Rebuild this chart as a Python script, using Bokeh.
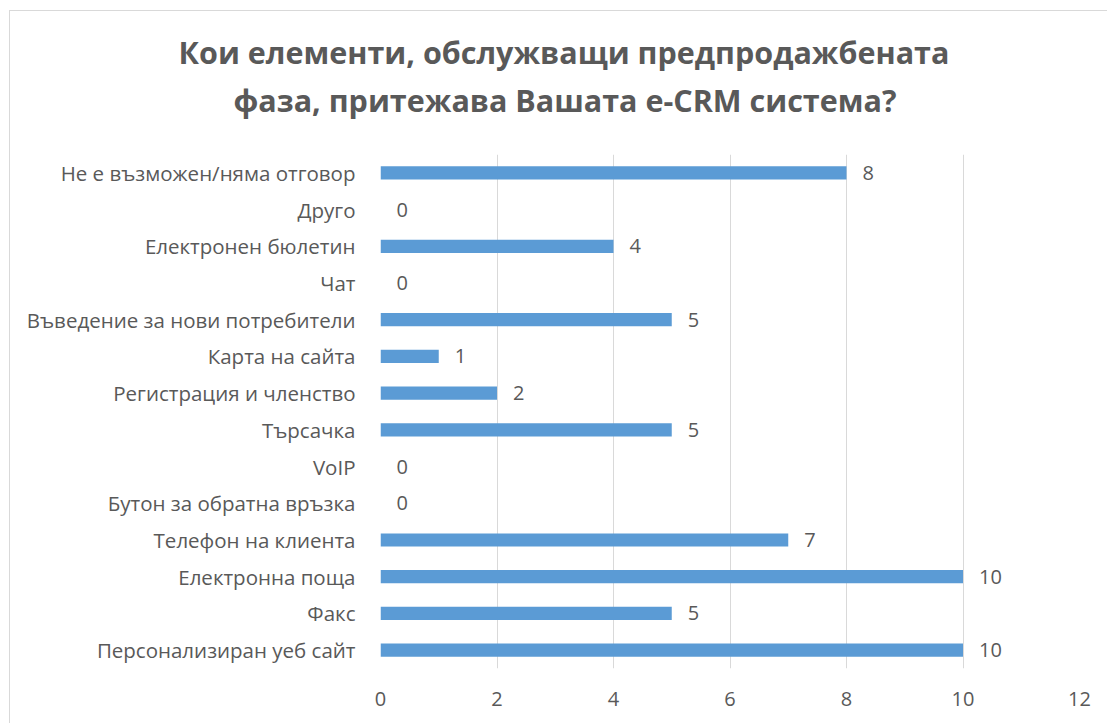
from bokeh.plotting import figure
from bokeh.models import ColumnDataSource, FactorRange, Range1d, FixedTicker, Title
from bokeh.core.properties import value
from bokeh.embed import file_html
from bokeh.resources import INLINE

title_lines = ["Кои елементи, обслужващи предпродажбената",
               "фаза, притежава Вашата e-CRM система?"]

categories = ["Персонализиран уеб сайт", "Факс", "Електронна поща", "Телефон на клиента",
              "Бутон за обратна връзка", "VoIP", "Търсачка", "Регистрация и членство",
              "Карта на сайта", "Въведение за нови потребители", "Чат",
              "Електронен бюлетин", "Друго", "Не е възможен/няма отговор"]
counts = [10, 5, 10, 7, 0, 0, 5, 2, 1, 5, 0, 4, 0, 8]
x_ticks = [0, 2, 4, 6, 8, 10, 12]

FONT = "Open Sans"
GREY = "#595959"
BAR = "#5B9BD5"

src = ColumnDataSource(dict(cat=categories, val=counts, lbl=[str(v) for v in counts]))

p = figure(width=1098, height=713, output_backend="svg", toolbar_location=None,
           y_range=FactorRange(factors=categories), x_range=Range1d(0, 12),
           min_border_left=370, min_border_right=29, min_border_top=143, min_border_bottom=56)
p.margin = (10, 0, 0, 9)
p.styles = {"border-top": "1px solid #d9d9d9", "border-left": "1px solid #d9d9d9"}
p.outline_line_color = None
p.background_fill_color = "white"
p.border_fill_color = "white"

p.hbar(y="cat", right="val", left=0, height=0.36, source=src, fill_color=BAR, line_color=None)
p.text(x="val", y="cat", text="lbl", source=src, x_offset=16, text_align="left",
       text_baseline="middle", text_font=value(FONT), text_font_size="20px", text_color=GREY)

p.xaxis.ticker = FixedTicker(ticks=x_ticks)
for ax in (p.xaxis, p.yaxis):
    ax.axis_line_color = None
    ax.major_tick_line_color = None
    ax.minor_tick_line_color = None
    ax.major_label_text_font = FONT
    ax.major_label_text_font_size = "20px"
    ax.major_label_text_color = GREY
p.yaxis.major_label_text_font_size = "20.5px"
p.xaxis.major_label_standoff = 17
p.yaxis.major_label_standoff = 19
p.ygrid.grid_line_color = None
p.xgrid.grid_line_color = "#D9D9D9"
p.xgrid.grid_line_width = 1

# spacer between the plot frame and the two-line title
p.add_layout(Title(text=" ", text_font_size="1px", standoff=31), "above")
for t, off, so in zip(reversed(title_lines), [-147, -202], [0, 8]):
    p.add_layout(Title(text=t, align="left", offset=off, standoff=so,
                       text_font=FONT, text_font_size="30.5px", text_font_style="bold",
                       text_color=GREY), "above")

open("out.html", "w").write(file_html(p, INLINE))
